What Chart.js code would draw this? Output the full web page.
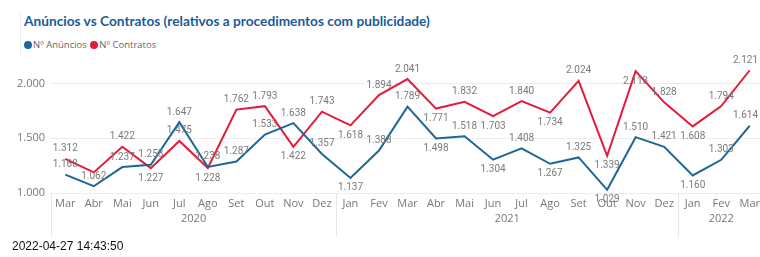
<!DOCTYPE html>
<html>
<head>
<meta charset="utf-8">
<script src="https://cdn.jsdelivr.net/npm/chart.js@4/dist/chart.umd.min.js"></script>
<style>
  html, body { margin:0; padding:0; width:760px; height:257px; overflow:hidden; background:#fff; }
  #title { position:absolute; left:24px; top:12px; font-family:Lato, 'Liberation Sans', sans-serif; font-weight:bold; font-size:13.7px; color:#1a5b98; white-space:nowrap; }
  #legend { position:absolute; left:24px; top:38px; font-family:'Open Sans', sans-serif; font-size:9.5px; color:#666; white-space:nowrap; }
  #legend span.dot { display:inline-block; width:8px; height:8px; border-radius:50%; margin-right:1px; vertical-align:-0.5px; }
  #wrap { position:absolute; left:0; top:49px; width:770px; height:191px; }
  #ts { position:absolute; left:12px; top:239px; font-family:'Liberation Sans', Arial, sans-serif; font-size:12px; color:#111; }
  #vline { position:absolute; left:20px; top:12px; width:1px; height:44px; background:#eee; }
</style>
</head>
<body>
<div id="vline"></div>
<div id="title">Anúncios vs Contratos (relativos a procedimentos com publicidade)</div>
<div id="legend"><span class="dot" style="background:#1d6796"></span>Nº Anúncios <span class="dot" style="background:#e51b37;margin-left:1px"></span>Nº Contratos</div>
<div id="wrap"><canvas id="c" width="770" height="191"></canvas></div>
<div id="ts">2022-04-27 14:43:50</div>
<script>
const months = ['Mar','Abr','Mai','Jun','Jul','Ago','Set','Out','Nov','Dez','Jan','Fev','Mar','Abr','Mai','Jun','Jul','Ago','Set','Out','Nov','Dez','Jan','Fev','Mar'];
const yearLabels = ['2020','2021','2022'];
const yearStart = [0, 10, 22];
const yearEnd = [9, 21, 24];
const anuncios = [1168,1062,1237,1258,1647,1238,1287,1533,1638,1357,1137,1388,1789,1498,1518,1304,1408,1267,1325,1029,1510,1421,1160,1303,1614];
const contratos = [1312,1188,1422,1227,1475,1228,1762,1793,1422,1743,1618,1894,2041,1771,1832,1703,1840,1734,2024,1339,2113,1828,1608,1794,2121];
// label placement: 'a' above, 'b' below, '' hidden
const anunciosPos = ['a','a','a','a','a','a','a','a','a','a','b','a','a','b','a','b','a','b','a','b','a','a','b','a','a'];
const contratosPos = ['a','','a','b','a','b','a','a','b','a','b','a','a','b','a','b','a','b','a','b','b','a','b','a','a'];
const yTicks = [1000, 1500, 2000];

const BLUE = '#1d6796', RED = '#e51b37';
const fmt = v => String(v).replace(/\B(?=(\d{3})+(?!\d))/g, '.');

const labelPlugin = {
  id: 'dl',
  afterDatasetsDraw(chart) {
    const ctx = chart.ctx;
    ctx.save();
    ctx.font = '10px Roboto, sans-serif';
    ctx.fillStyle = '#7a7a7a';
    ctx.textAlign = 'center';
    ctx.textBaseline = 'middle';
    const posArr = [anunciosPos, contratosPos];
    chart.data.datasets.forEach((ds, di) => {
      const meta = chart.getDatasetMeta(di);
      meta.data.forEach((pt, i) => {
        const p = posArr[di][i];
        if (!p) return;
        const txt = fmt(ds.data[i]);
        const w = ctx.measureText(txt).width;
        const x = Math.min(pt.x, 758 - w / 2);
        const y = p === 'a' ? pt.y - 10 : pt.y + 10;
        ctx.fillText(txt, x, y);
      });
    });
    ctx.restore();
  }
};

const yearPlugin = {
  id: 'years',
  afterDraw(chart) {
    const ctx = chart.ctx, xs = chart.scales.x, area = chart.chartArea;
    const step = xs.getPixelForValue(1) - xs.getPixelForValue(0);
    ctx.save();
    ctx.strokeStyle = '#e6e6e6';
    ctx.lineWidth = 1;
    const bottom = area.bottom + 44;
    yearStart.forEach((s, k) => {
      const x = Math.round(xs.getPixelForValue(s) - step / 2) + 0.5;
      ctx.beginPath(); ctx.moveTo(x, area.bottom); ctx.lineTo(x, bottom); ctx.stroke();
    });
    ctx.font = '11px "Open Sans", sans-serif';
    ctx.fillStyle = '#777';
    ctx.textAlign = 'center';
    ctx.textBaseline = 'middle';
    yearLabels.forEach((lab, k) => {
      const x = (xs.getPixelForValue(yearStart[k]) + xs.getPixelForValue(yearEnd[k])) / 2;
      ctx.fillText(lab, x, area.bottom + 26);
    });
    ctx.restore();
  }
};

new Chart(document.getElementById('c'), {
  type: 'line',
  data: {
    labels: months,
    datasets: [
      { label: 'Nº Anúncios', data: anuncios, borderColor: BLUE, backgroundColor: BLUE, borderWidth: 2, pointRadius: 0, tension: 0 },
      { label: 'Nº Contratos', data: contratos, borderColor: RED, backgroundColor: RED, borderWidth: 2, pointRadius: 0, tension: 0 }
    ]
  },
  options: {
    responsive: false,
    animation: false,
    layout: { padding: { top: 0, right: 6, left: 0, bottom: 0 } },
    plugins: { legend: { display: false }, tooltip: { enabled: false } },
    scales: {
      x: {
        offset: true,
        grid: { display: false, drawTicks: false },
        border: { display: false },
        ticks: { color: '#777', font: { family: 'Open Sans', size: 11 }, padding: 4, maxRotation: 0, autoSkip: false },
        afterFit(s) { s.height = 47; }
      },
      y: {
        min: 1000, max: 2200,
        afterBuildTicks(s) { s.ticks = yTicks.map(v => ({ value: v })); },
        grid: { color: '#ececec', drawTicks: false },
        border: { display: false },
        ticks: { color: '#777', font: { family: 'Open Sans', size: 11 }, padding: 6, callback: v => fmt(v) },
        afterFit(s) { s.width = 51; }
      }
    }
  },
  plugins: [labelPlugin, yearPlugin]
});
</script>
</body>
</html>
